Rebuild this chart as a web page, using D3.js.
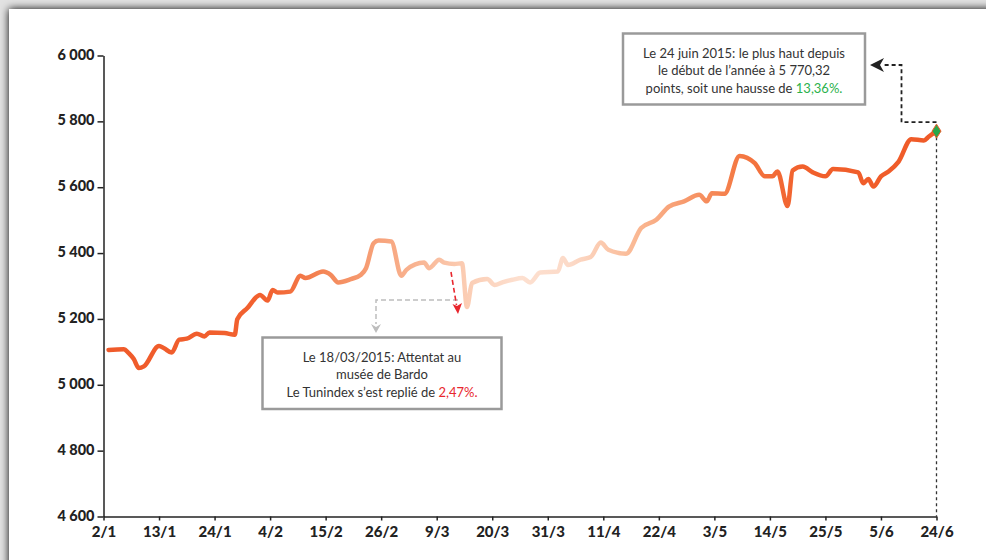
<!DOCTYPE html>
<html>
<head>
<meta charset="utf-8">
<script src="https://cdn.jsdelivr.net/npm/d3@7/dist/d3.min.js"></script>
<style>
  body { margin: 0; background: #e4e4e4; }
  svg { display: block; }
  .tick text { font-family: Lato, "Open Sans", sans-serif; font-weight: 900; font-size: 14.5px; fill: #222; }
  .note { font-family: Lato, "Open Sans", sans-serif; font-size: 13px; fill: #333; }
</style>
</head>
<body>
<div id="chart"></div>
<script>
// Tunindex, 2 janvier - 24 juin 2015 (day offset from 2/1, index value)
var days = [1, 4, 5, 6, 7, 8, 11, 12, 13.5, 15, 16.5, 18.5, 20, 21, 24, 26, 26.5, 28.5, 31, 32.5,
  33.5, 34.5, 37, 39, 40, 43.5, 45, 46.5, 49, 51, 52, 53.5, 54.5, 57, 59, 60, 63.5, 64.5, 66.5, 67.5,
  69.5, 71, 72, 73, 76, 77.5, 79, 81, 83, 84.5, 86.5, 90, 91, 92, 94.5, 96.5, 98.5, 100, 103.5, 106.5,
  109.5, 112, 115, 118, 119.5, 120.5, 123, 126, 129, 131, 132.5, 133.5, 135.5, 136.5, 138.5, 140.5,
  143, 144.5, 149.5, 150.5, 151.5, 152.5, 154, 155.5, 157.5, 160, 162.5, 163.5, 165];
var values = [5106, 5108, 5096, 5078, 5051, 5056, 5118, 5111, 5098, 5137, 5140, 5155, 5147, 5159, 5157, 5152, 5199, 5233, 5273, 5256,
  5288, 5280, 5283, 5331, 5324, 5344, 5334, 5311, 5321, 5334, 5354, 5430, 5438, 5435, 5331, 5349, 5371, 5354, 5380, 5371,
  5367, 5369, 5236, 5309, 5321, 5303, 5311, 5319, 5324, 5311, 5341, 5344, 5385, 5364, 5380, 5388, 5432, 5410, 5398, 5476,
  5501, 5541, 5557, 5577, 5557, 5582, 5580, 5695, 5673, 5633, 5633, 5648, 5543, 5651, 5663, 5645,
  5633, 5655, 5645, 5612, 5625, 5602, 5633, 5648, 5678, 5746, 5742, 5754, 5770.32];

var tickDays = [0, 11, 22, 33, 44, 55, 66, 77, 88, 99, 110, 121, 132, 143, 154, 165];
var tickLabels = ["2/1", "13/1", "24/1", "4/2", "15/2", "26/2", "9/3", "20/3", "31/3", "11/4", "22/4", "3/5", "14/5", "25/5", "5/6", "24/6"];
var yTicks = [4600, 4800, 5000, 5200, 5400, 5600, 5800, 6000];

var W = 986, H = 560;
var data = days.map(function(d, i) { return {day: d, value: values[i]}; });

var x = d3.scaleLinear().domain([0, 165]).range([103.5, 936.5]);
var y = d3.scaleLinear().domain([4600, 6000]).range([516.5, 55.5]);

var svg = d3.select("#chart").append("svg")
  .attr("width", W)
  .attr("height", H);

var defs = svg.append("defs");

// card shadow
var blur = defs.append("filter").attr("id", "shadow").attr("x", "-5%").attr("y", "-5%").attr("width", "110%").attr("height", "110%");
blur.append("feGaussianBlur").attr("in", "SourceAlpha").attr("stdDeviation", 4);
blur.append("feOffset").attr("dx", 0).attr("dy", 0).attr("result", "b");
var merge = blur.append("feMerge");
merge.append("feMergeNode").attr("in", "b");
merge.append("feMergeNode").attr("in", "SourceGraphic");

// line colour: orange, fading pale in March/April, back to orange
var grad = defs.append("linearGradient")
  .attr("id", "lineGrad")
  .attr("gradientUnits", "userSpaceOnUse")
  .attr("x1", x(0)).attr("x2", x(165)).attr("y1", 0).attr("y2", 0);
[[0, "#ef5a2a"], [0.2, "#f26230"], [0.27, "#f4895a"], [0.33, "#f7a27a"], [0.43, "#fbcbb1"],
 [0.5, "#fde0d0"], [0.56, "#fcdac8"], [0.64, "#fab893"], [0.76, "#f47a45"], [0.84, "#f1602c"], [1, "#ef5a28"]]
  .forEach(function(s) {
    grad.append("stop").attr("offset", s[0]).attr("stop-color", s[1]);
  });

svg.append("rect").attr("width", W).attr("height", H).attr("fill", "#e2e2e2");
svg.append("rect")
  .attr("x", 9).attr("y", 9)
  .attr("width", W + 20).attr("height", H + 20)
  .attr("fill", "#fff")
  .attr("filter", "url(#shadow)");

// axes
var yAxis = d3.axisLeft(y).tickValues(yTicks).tickSize(6).tickSizeOuter(0)
  .tickFormat(function(d) { return d3.format(",")(d).replace(",", " "); });
var gy = svg.append("g").attr("transform", "translate(" + x(0) + ",0)").call(yAxis);
gy.selectAll("text").attr("dy", "0.25em").attr("x", -9);

var xAxis = d3.axisBottom(x).tickValues(tickDays).tickSize(4).tickSizeOuter(0)
  .tickFormat(function(d, i) { return tickLabels[i]; });
var gx = svg.append("g").attr("transform", "translate(0," + y(4600) + ")").call(xAxis);
gx.selectAll("text").attr("y", 10).style("font-size", "15px");

svg.selectAll(".domain, .tick line").attr("stroke", "#222").attr("stroke-width", 1.5);

// annotation: last point
var last = data[data.length - 1];
var lx = x(last.day), ly = y(last.value);

svg.append("line")
  .attr("x1", lx).attr("x2", lx)
  .attr("y1", ly + 6).attr("y2", y(4600))
  .attr("stroke", "#333").attr("stroke-width", 1.3)
  .attr("stroke-dasharray", "3,3");

svg.append("path")
  .attr("d", "M" + lx + "," + (ly - 9) + " H" + (lx - 35) + " V65 H882")
  .attr("fill", "none")
  .attr("stroke", "#222").attr("stroke-width", 1.8)
  .attr("stroke-dasharray", "4,3");

svg.append("path")
  .attr("d", "M870,65 L884,58 L880,65 L884,72 Z")
  .attr("fill", "#222");

// line
var line = d3.line()
  .x(function(d) { return x(d.day); })
  .y(function(d) { return y(d.value); })
  .curve(d3.curveMonotoneX);

svg.append("path")
  .datum(data)
  .attr("d", line)
  .attr("fill", "none")
  .attr("stroke", "url(#lineGrad)")
  .attr("stroke-width", 4.5)
  .attr("stroke-linejoin", "round")
  .attr("stroke-linecap", "round");

svg.append("path")
  .attr("d", "M0,-7 L4.5,0 L0,7 L-4.5,0 Z")
  .attr("transform", "translate(" + lx + "," + ly + ")")
  .attr("fill", "#2aa84a")
  .attr("stroke", "#f05a28").attr("stroke-width", 1);

// annotation: Bardo attack
svg.append("path")
  .attr("d", "M458,300 H376 V324")
  .attr("fill", "none")
  .attr("stroke", "#bdbdbd").attr("stroke-width", 1.5)
  .attr("stroke-dasharray", "5,3");
svg.append("path")
  .attr("d", "M376,333 L371,324 L376,327 L381,324 Z")
  .attr("fill", "#bdbdbd");

svg.append("path")
  .attr("d", "M451,272 L456.5,305")
  .attr("stroke", "#e8262d").attr("stroke-width", 1.6)
  .attr("stroke-dasharray", "5,3");
svg.append("path")
  .attr("d", "M458,314 L452.5,304 L457,306 L462,303 Z")
  .attr("fill", "#e8262d");

// text boxes
function noteBox(x0, y0, w, h, lines) {
  var g = svg.append("g");
  g.append("rect")
    .attr("x", x0).attr("y", y0).attr("width", w).attr("height", h)
    .attr("fill", "#fff")
    .attr("stroke", "#9a9a9a").attr("stroke-width", 2.5);
  var t = g.append("text").attr("class", "note").attr("text-anchor", "middle");
  lines.forEach(function(l, i) {
    var ts = t.append("tspan").attr("x", x0 + w / 2).attr("y", y0 + 24 + i * 17.5);
    ts.append("tspan").text(l[0]);
    if (l[1]) ts.append("tspan").attr("fill", l[2]).text(l[1]);
  });
}

noteBox(623, 33.5, 242, 71, [
  ["Le 24 juin 2015: le plus haut depuis"],
  ["le début de l’année à 5 770,32"],
  ["points, soit une hausse de ", "13,36%.", "#2bb24c"]
]);

noteBox(262.5, 337.5, 239, 71.5, [
  ["Le 18/03/2015: Attentat au"],
  ["musée de Bardo"],
  ["Le Tunindex s’est replié de ", "2,47%.", "#e8262d"]
]);
</script>
</body>
</html>
